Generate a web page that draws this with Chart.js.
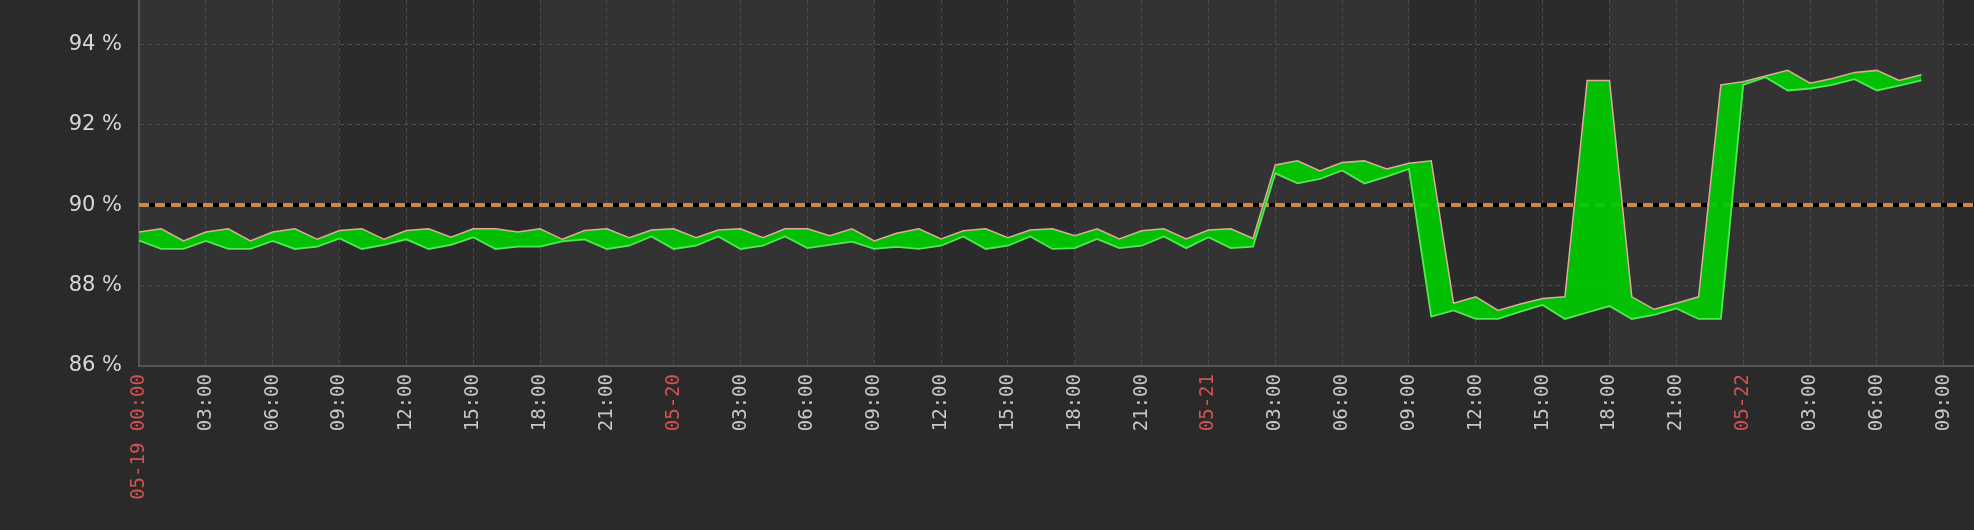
<!DOCTYPE html>
<html>
<head>
<meta charset="utf-8">
<script src="https://cdn.jsdelivr.net/npm/chart.js@4.4.0/dist/chart.umd.min.js"></script>
<style>
  html, body { margin: 0; padding: 0; background: #2a2a2a; }
  #wrap { width: 1974px; height: 530px; position: relative; }
</style>
</head>
<body>
<div id="wrap"><canvas id="availChart"></canvas></div>
<script>
// hourly samples, index 0 = 05-19 00:00
const days = ['05-19', '05-20', '05-21', '05-22'];

const upperPct = [
    89.33, 89.41, 89.11, 89.33, 89.41, 89.11, 89.33, 89.41, 89.15, 89.37,
    89.41, 89.15, 89.37, 89.41, 89.20, 89.41, 89.41, 89.33, 89.41, 89.15,
    89.37, 89.41, 89.19, 89.38, 89.41, 89.19, 89.38, 89.41, 89.19, 89.41,
    89.41, 89.24, 89.41, 89.11, 89.30, 89.41, 89.16, 89.36, 89.41, 89.19,
    89.38, 89.41, 89.24, 89.41, 89.16, 89.36, 89.41, 89.16, 89.38, 89.41,
    89.17, 91.00, 91.10, 90.85, 91.06, 91.10, 90.90, 91.04, 91.10, 87.56,
    87.72, 87.38, 87.54, 87.68, 87.72, 93.10, 93.10, 87.72, 87.41, 87.56,
    87.72, 92.99, 93.07, 93.21, 93.35, 93.03, 93.15, 93.30, 93.35, 93.10,
    93.24
];

const lowerPct = [
    89.12, 88.91, 88.91, 89.11, 88.91, 88.91, 89.11, 88.91, 88.97, 89.17,
    88.91, 89.01, 89.15, 88.91, 89.01, 89.20, 88.91, 88.97, 88.97, 89.10,
    89.15, 88.91, 88.99, 89.22, 88.91, 88.99, 89.22, 88.91, 88.99, 89.22,
    88.93, 89.01, 89.09, 88.91, 88.96, 88.91, 88.99, 89.22, 88.91, 88.99,
    89.22, 88.91, 88.93, 89.16, 88.93, 88.99, 89.22, 88.93, 89.20, 88.93,
    88.97, 90.79, 90.54, 90.65, 90.86, 90.54, 90.71, 90.90, 87.23, 87.38,
    87.17, 87.17, 87.35, 87.52, 87.17, 87.33, 87.49, 87.17, 87.27, 87.43,
    87.17, 87.17, 92.99, 93.18, 92.85, 92.90, 92.99, 93.13, 92.85, 92.97,
    93.10
];

const threshold = 90;
const xMax = 82.36;   // hours shown
const yMin = 86;
const yMax = 95.1;

// darker background during 09:00-18:00
const workHours = [[9, 18], [33, 42], [57, 66], [81, 90]];

const toPoints = arr => arr.map((v, i) => ({ x: i, y: v }));

// background + day/work bands
const bandsPlugin = {
    id: 'bands',
    beforeDraw(chart) {
        const { ctx, chartArea, scales } = chart;
        ctx.save();
        ctx.fillStyle = '#2a2a2a';
        ctx.fillRect(0, 0, chart.width, chart.height);
        ctx.fillStyle = '#333333';
        ctx.fillRect(chartArea.left, chartArea.top, chartArea.right - chartArea.left, chartArea.bottom - chartArea.top);
        ctx.fillStyle = '#2b2b2b';
        workHours.forEach(b => {
            const x1 = Math.max(scales.x.getPixelForValue(b[0]), chartArea.left);
            const x2 = Math.min(scales.x.getPixelForValue(b[1]), chartArea.right);
            if (x2 > x1) ctx.fillRect(x1, chartArea.top, x2 - x1, chartArea.bottom - chartArea.top);
        });
        ctx.restore();
    }
};

const ctx = document.getElementById('availChart').getContext('2d');
const availChart = new Chart(ctx, {
    type: 'line',
    data: {
        datasets: [
            {
                label: 'max',
                data: toPoints(upperPct),
                borderColor: '#e3a9a0',
                borderWidth: 1.5,
                backgroundColor: 'rgba(0, 204, 0, 0.92)',
                fill: '+1',
                pointRadius: 0,
                tension: 0,
                order: 2
            },
            {
                label: 'min',
                data: toPoints(lowerPct),
                borderColor: '#4cec4c',
                borderWidth: 1.8,
                fill: false,
                pointRadius: 0,
                tension: 0,
                order: 1
            },
            {
                label: 'threshold',
                data: [{ x: 0, y: threshold }, { x: xMax, y: threshold }],
                borderColor: '#cc8847',
                borderWidth: 4,
                borderDash: [10, 6],
                fill: false,
                pointRadius: 0,
                order: 3
            },
            {
                label: 'threshold-bg',
                data: [{ x: 0, y: threshold }, { x: xMax, y: threshold }],
                borderColor: '#000000',
                borderWidth: 4,
                fill: false,
                pointRadius: 0,
                order: 4
            }
        ]
    },
    options: {
        responsive: true,
        maintainAspectRatio: false,
        animation: false,
        layout: { padding: 0 },
        plugins: {
            legend: { display: false },
            tooltip: { enabled: false }
        },
        scales: {
            x: {
                type: 'linear',
                min: 0,
                max: xMax,
                grid: { color: '#4c4c4c', lineWidth: 1, drawTicks: false },
                border: { color: '#555555', width: 2, dash: [4, 4] },
                ticks: {
                    stepSize: 3,
                    autoSkip: false,
                    includeBounds: false,
                    maxRotation: 90,
                    minRotation: 90,
                    padding: 8,
                    font: { family: '"DejaVu Sans Mono", monospace', size: 19 },
                    color: c => (c.tick && c.tick.value % 24 === 0) ? '#d65252' : '#c8c8c8',
                    callback: function(value) {
                        if (value % 3 !== 0) return '';
                        if (value === 0) return days[0] + ' 00:00';
                        if (value % 24 === 0) return days[value / 24];
                        const h = value % 24;
                        return (h < 10 ? '0' + h : '' + h) + ':00';
                    }
                },
                afterFit: s => { s.height = 164; s.paddingLeft = 0; s.paddingRight = 0; }
            },
            y: {
                min: yMin,
                max: yMax,
                grid: { color: '#4c4c4c', lineWidth: 1, drawTicks: false },
                border: { color: '#555555', width: 2, dash: [4, 4] },
                ticks: {
                    stepSize: 2,
                    includeBounds: false,
                    padding: 17,
                    font: { family: '"DejaVu Sans", sans-serif', size: 21 },
                    color: '#d8d8d8',
                    callback: v => v + ' %'
                },
                afterFit: s => { s.width = 139; s.paddingTop = 0; s.paddingBottom = 0; }
            }
        }
    },
    plugins: [bandsPlugin]
});
</script>
</body>
</html>
